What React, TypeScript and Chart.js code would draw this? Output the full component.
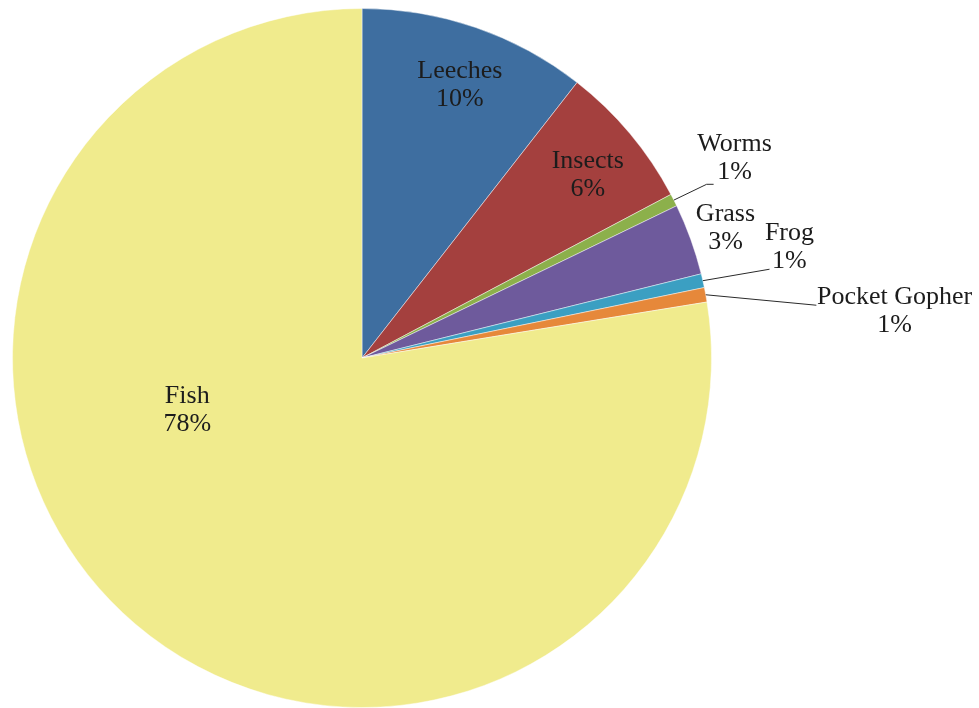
import React, { useEffect, useRef } from "react";
import { Chart, registerables } from "chart.js";

Chart.register(...registerables);

const categories = ["Leeches", "Insects", "Worms", "Grass", "Frog", "Pocket Gopher", "Fish"];
const shares = [10.55, 6.7, 0.58, 3.3, 0.64, 0.67, 77.56];
const percentLabels = ["10%", "6%", "1%", "3%", "1%", "1%", "78%"];
const colors = ["#3E6EA0", "#A4403E", "#8CB04B", "#6E5A9C", "#3B9FC2", "#E6883A", "#F0EB8D"];

// label placement in units of the pie radius, relative to the pie centre
const labelOffsets: [number, number][] = [
  [0.28, -0.78],
  [0.646, -0.523],
  [1.066, -0.572],
  [1.04, -0.371],
  [1.223, -0.317],
  [1.524, -0.134],
  [-0.5, 0.149],
];
// leader line end points (null = no leader line)
const leaderEnds: ([number, number] | null)[] = [
  null,
  null,
  [0.986, -0.497],
  null,
  [1.166, -0.254],
  [1.3, -0.151],
  null,
];
const leaderHooks: (number | null)[] = [null, null, 0.02, null, null, null, null];

const labelPlugin = {
  id: "pieLabels",
  afterDatasetsDraw(chart: any) {
    const ctx = chart.ctx;
    const meta = chart.getDatasetMeta(0);
    ctx.save();
    meta.data.forEach((arc: any, i: number) => {
      const { x, y, startAngle, endAngle, outerRadius } = arc.getProps(
        ["x", "y", "startAngle", "endAngle", "outerRadius"],
        true
      );
      const r = outerRadius;
      const mid = (startAngle + endAngle) / 2;
      const le = leaderEnds[i];
      if (le) {
        ctx.strokeStyle = "#2a2a2a";
        ctx.lineWidth = 1;
        ctx.beginPath();
        ctx.moveTo(x + Math.cos(mid) * r, y + Math.sin(mid) * r);
        const ex = x + le[0] * r;
        const ey = y + le[1] * r;
        ctx.lineTo(ex, ey);
        const hook = leaderHooks[i];
        if (hook) ctx.lineTo(ex + hook * r, ey);
        ctx.stroke();
      }
      const [ox, oy] = labelOffsets[i];
      const tx = x + ox * r;
      const ty = y + oy * r;
      ctx.fillStyle = "#1c1c1c";
      ctx.font = '26px "Liberation Serif", "Times New Roman", serif';
      ctx.textAlign = "center";
      ctx.textBaseline = "middle";
      ctx.fillText(categories[i], tx, ty - 14);
      ctx.fillText(percentLabels[i], tx, ty + 14);
    });
    ctx.restore();
  },
};

export default function App() {
  const ref = useRef<HTMLCanvasElement | null>(null);
  useEffect(() => {
    if (!ref.current) return;
    const chart = new Chart(ref.current, {
      type: "pie",
      data: {
        labels: categories,
        datasets: [
          {
            data: shares,
            backgroundColor: colors,
            borderColor: "rgba(255,255,255,0.45)",
            borderWidth: 1,
          },
        ],
      },
      options: {
        responsive: false,
        animation: false,
        layout: { padding: { left: 12, top: 8, right: 267, bottom: 0 } },
        plugins: {
          legend: { display: false },
          tooltip: { enabled: false },
        },
      },
      plugins: [labelPlugin],
    });
    return () => chart.destroy();
  }, []);
  return (
    <div style={{ position: "absolute", left: 0, top: 0, width: 979, height: 708, background: "#fff" }}>
      <canvas ref={ref} width={979} height={708} style={{ display: "block" }} />
    </div>
  );
}
